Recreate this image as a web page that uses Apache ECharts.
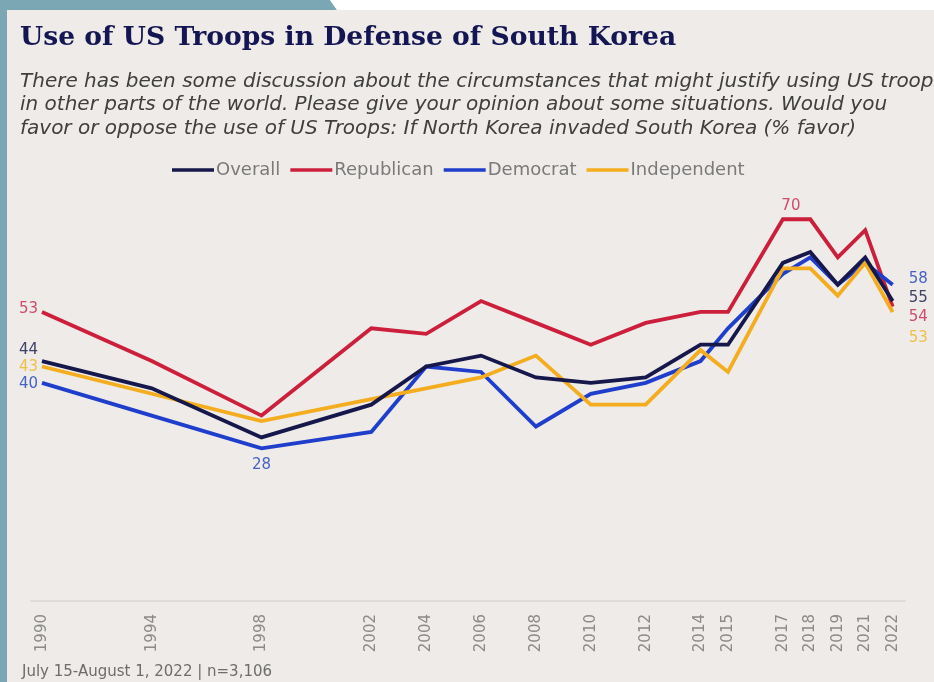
<!DOCTYPE html>
<html>
<head>
<meta charset="utf-8">
<script src="https://cdn.jsdelivr.net/npm/echarts@6/dist/echarts.min.js"></script>
<style>
  html, body { margin: 0; padding: 0; background: #eeebe8; }
  #chart { width: 934px; height: 682px; }
</style>
</head>
<body>
<div id="chart"></div>
<script>
// ---- data ----
const years = [1990, 1994, 1998, 2002, 2004, 2006, 2008, 2010, 2012, 2014, 2015, 2017, 2018, 2019, 2021, 2022];
const overall     = [44, 39, 30, 36, 43, 45, 41, 40, 41, 47, 47, 62, 64, 58, 63, 55];
const republican  = [53, 44, 34, 50, 49, 55, 51, 47, 51, 53, 53, 70, 70, 63, 68, 54];
const democrat    = [40, 34, 28, 31, 43, 42, 32, 38, 40, 44, 50, 60, 63, 58, 62, 58];
const independent = [43, 38, 33, 37, 39, 41, 45, 36, 36, 46, 42, 61, 61, 56, 62, 53];
const seriesNames = ['Overall', 'Republican', 'Democrat', 'Independent'];
const titleText = 'Use of US Troops in Defense of South Korea';
const subtitleLines = [
  'There has been some discussion about the circumstances that might justify using US troops',
  'in other parts of the world. Please give your opinion about some situations. Would you',
  'favor or oppose the use of US Troops: If North Korea invaded South Korea (% favor)'
];
const footnote = 'July 15-August 1, 2022 | n=3,106';

// axis slots: one per year, year 2020 not on the axis
function slotOf(y) { return y - 1990 - (y >= 2021 ? 1 : 0); }
const slotToYear = {};
years.forEach(y => { slotToYear[slotOf(y)] = y; });
const tickSlots = years.map(slotOf);

const colors = {
  Overall: '#16174a', Republican: '#cc1f3c', Democrat: '#1f3ecb', Independent: '#f3ad1e'
};
const labelColors = {
  Overall: '#3d4266', Republican: '#cf4d6a', Democrat: '#4763c2', Independent: '#efc04a'
};
// label placement (style only)
const startOffsets = { Overall: [0, -11], Republican: [0, -3], Democrat: [0, 1], Independent: [0, 1] };
const endOffsets = { Overall: [0, -3], Republican: [0, 11], Democrat: [0, -6], Independent: [0, 26] };

const FONT = '"DejaVu Sans", sans-serif';

function buildSeries(name, values) {
  const data = values.map((v, i) => {
    const item = { value: [slotOf(years[i]), v] };
    const isFirst = i === 0, isLast = i === values.length - 1;
    let label = null;
    if (isFirst) label = { show: true, position: 'left', distance: 4, offset: startOffsets[name] };
    if (isLast) label = { show: true, position: 'right', distance: 16, offset: endOffsets[name] };
    if (name === 'Republican' && years[i] === 2017) label = { show: true, position: 'top', distance: 6, offset: [8, 0] };
    if (name === 'Democrat' && years[i] === 1998) label = { show: true, position: 'bottom', distance: 9, offset: [0, 0] };
    if (label) {
      label.color = labelColors[name];
      label.fontSize = 15;
      label.fontFamily = FONT;
      label.formatter = p => p.value[1];
      item.label = label;
    }
    return item;
  });
  return {
    name, type: 'line', data,
    showSymbol: true, symbol: 'circle', symbolSize: 0,
    lineStyle: { color: colors[name], width: 3.8, join: 'miter' },
    itemStyle: { color: colors[name] },
    label: { show: false },
    emphasis: { disabled: true },
    z: name === 'Overall' ? 4 : 3,
    animation: false
  };
}

const chart = echarts.init(document.getElementById('chart'), null, { renderer: 'canvas' });
const option = {
  backgroundColor: '#eeebe8',
  animation: false,
  color: seriesNames.map(n => colors[n]),
  graphic: [
    { type: 'polygon', shape: { points: [[0,0],[330,0],[337,10],[7,10],[7,682],[0,682]] }, style: { fill: '#7ba6b4' }, z: 0 },
    { type: 'polygon', shape: { points: [[330,0],[934,0],[934,10],[337,10]] }, style: { fill: '#ffffff' }, z: 0 },
    { type: 'text', left: 20, top: 25, style: { text: titleText, font: 'bold 26.6px "DejaVu Serif", serif', fill: '#141553' } },
    { type: 'text', left: 20, top: 70, style: { text: subtitleLines.join('\n'), font: 'italic 20px ' + FONT, fill: '#3f3f3f', lineHeight: 23.5 } },
    { type: 'text', left: 22, top: 665, style: { text: footnote, font: '15px ' + FONT, fill: '#6d6d6d' } }
  ],
  legend: {
    data: seriesNames,
    top: 156, left: 167,
    icon: 'rect', itemWidth: 42, itemHeight: 3.5, itemGap: 10,
    textStyle: { color: '#7a7a7a', fontSize: 18, fontFamily: FONT, padding: [0, 0, 0, -3] }
  },
  grid: { left: 31, right: 29, top: 192, bottom: 81 },
  xAxis: {
    type: 'value', min: -0.4, max: 31.45,
    splitLine: { show: false },
    axisTick: { show: false },
    axisLine: { show: true, lineStyle: { color: '#d9d6d2', width: 1.5 } },
    axisLabel: {
      customValues: tickSlots,
      rotate: 90, margin: 13, color: '#8a8a8a', fontSize: 15, fontFamily: FONT,
      formatter: v => String(slotToYear[Math.round(v)])
    }
  },
  yAxis: { type: 'value', min: 0, max: 75, show: false, splitLine: { show: false } },
  series: [
    buildSeries('Overall', overall),
    buildSeries('Republican', republican),
    buildSeries('Democrat', democrat),
    buildSeries('Independent', independent)
  ]
};
chart.setOption(option);
</script>
</body>
</html>
